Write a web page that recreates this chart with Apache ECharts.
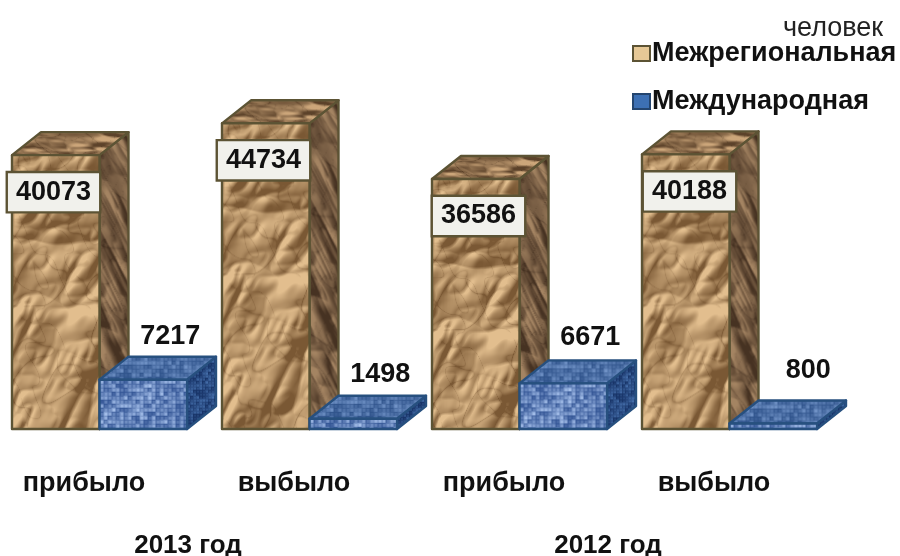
<!DOCTYPE html>
<html><head><meta charset="utf-8">
<style>html,body{margin:0;padding:0;background:#fff}#c{width:900px;height:556px}</style>
<script src="https://cdn.jsdelivr.net/npm/echarts@6/dist/echarts.min.js"></script>
</head><body><div id="c"></div>
<script>
const categories = ['прибыло','выбыло','прибыло','выбыло'];
const years = ['2013 год','2012 год'];
const interregional = [40073,44734,36586,40188];
const international = [7217,1498,6671,800];
const seriesNames = ['Межрегиональная','Международная'];
const unitLabel = 'человек';

// deterministic shaded surface for the paper and weave textures
function hash(x,y,s){let h=(x*374761393+y*668265263+s*1442695041)|0;h=Math.imul(h^(h>>>13),1274126177);return ((h^(h>>>16))>>>0)/4294967295;}
function vnoise(x,y,s){const xi=Math.floor(x),yi=Math.floor(y),fx=x-xi,fy=y-yi,u=fx*fx*(3-2*fx),v=fy*fy*(3-2*fy);
  const a=hash(xi,yi,s),b=hash(xi+1,yi,s),c=hash(xi,yi+1,s),d=hash(xi+1,yi+1,s);
  return a+(b-a)*u+(c-a)*v+(a-b-c+d)*u*v;}
function ridged(x,y,s){let t=0,amp=1;for(let o=0;o<3;o++){t+=amp*Math.abs(2*vnoise(x,y,s+o)-1);x=x*2.03+7;y=y*2.03+3;amp*=.45;}return t;}
function makeTex(w,h,pix){const c=document.createElement('canvas');c.width=w;c.height=h;const g=c.getContext('2d'),im=g.createImageData(w,h);
  for(let y=0;y<h;y++)for(let x=0;x<w;x++){const p=pix(x,y),i=(y*w+x)*4;im.data[i]=p[0];im.data[i+1]=p[1];im.data[i+2]=p[2];im.data[i+3]=255;}
  g.putImageData(im,0,0);return c;}
const mix=(a,b,t)=>{t=Math.max(0,Math.min(1,t));return [a[0]+(b[0]-a[0])*t,a[1]+(b[1]-a[1])*t,a[2]+(b[2]-a[2])*t];};
function paper(w,h,fx,fy,skew,seed,dark,light,gain,bias,crease){
  const H=(x,y)=>ridged((x+y*skew)*fx,y*fy,seed);
  return makeTex(w,h,(x,y)=>{
    const d=H(x+1.5,y+1.5)-H(x-1.5,y-1.5);
    const c1=Math.abs(2*vnoise((x+y*skew)*fx*1.7,y*fy*1.7,seed+20)-1);
    const c2=Math.abs(2*vnoise((x-y*skew)*fx*3.1,y*fy*3.1,seed+21)-1);
    const t=bias+gain*d+.25*(vnoise(x*.04,y*.03,seed+9)-.5)-crease*Math.exp(-c1/.035)-.6*crease*Math.exp(-c2/.04);
    return mix(dark,light,t);});
}
const texFront=paper(96,320,.024,.018,.45,11,[122,88,52],[226,190,142],2.6,.58,.32);
const texSide=paper(40,340,.05,.014,-.5,23,[70,50,34],[164,132,98],2.6,.5,.3);
const texTop=paper(130,40,.02,.05,-1.1,37,[92,66,42],[204,166,122],2.6,.5,.3);
function weave(w,h,dark,light,seed,cell){return makeTex(w,h,(x,y)=>{const cx=Math.floor(x/cell),cy=Math.floor(y/cell);
  const grid=((x%cell===0)||(y%cell===0))?.28:0;const t=hash(cx,cy,seed)*.75+.3*vnoise(x*.1,y*.1,seed+1)-grid;return mix(dark,light,t);});}
const texBF=weave(96,60,[52,86,150],[170,196,238],5,4);
const texBS=weave(40,60,[24,52,104],[70,112,172],6,3);
const texBT=weave(130,30,[48,84,140],[112,146,198],7,4);

const DX=29, DY=23;
const brown={front:texFront,side:texSide,top:texTop,line:'#5c5334'};
const blue={front:texBF,side:texBS,top:texBT,line:'#27507f'};
const pat=(image,x,y)=>({image,repeat:'repeat',x,y});
const FONT='"Liberation Sans",Arial,sans-serif';
const BOLD='bold 27px '+FONT;

function box(skin,x0,x1,yTop,yBase,extra){
  const line={stroke:skin.line,lineWidth:2.4,lineJoin:'round'};
  return [
    {type:'polygon',shape:{points:[[x1,yTop],[x1+DX,yTop-DY],[x1+DX,yBase-DY],[x1,yBase]]},style:Object.assign({fill:pat(skin.side,x1,yTop-DY)},line)},
    {type:'polygon',shape:{points:[[x0,yTop],[x0+DX,yTop-DY],[x1+DX,yTop-DY],[x1,yTop]]},style:Object.assign({fill:pat(skin.top,x0,yTop-DY)},line)},
    {type:'rect',shape:{x:x0,y:yTop,width:x1-x0,height:yBase-yTop},style:Object.assign({fill:pat(skin.front,x0,yTop)},line)}
  ].concat(extra||[]);
}
function renderBrown(params,api){
  const i=api.value(0),v=api.value(1),p=api.coord([i,v]),b=api.coord([i,0]),w=api.size([1,0])[0]/2.4;
  const nudge=[-46,-46,-41,-40][i];
  return {type:'group',children:box(brown,p[0]-w,p[0],p[1],b[1],[
    {type:'text',z2:11,style:{text:String(v),x:p[0]+nudge,y:p[1]+37,align:'center',verticalAlign:'middle',font:BOLD,fill:'#111',
      backgroundColor:'#f1f1ec',borderColor:'#5c5334',borderWidth:2.4,padding:[6,8,5,8]}}
  ])};
}
function renderBlue(params,api){
  const i=api.value(0),v=api.value(1),p=api.coord([i,v]),b=api.coord([i,0]),w=api.size([1,0])[0]/2.4;
  const up=[-43,-44,-46,-53][i], right=[27,27,27,35][i];
  return {type:'group',children:box(blue,p[0],p[0]+w,p[1],b[1],[
    {type:'text',z2:11,style:{text:String(v),x:p[0]+w/2+right,y:p[1]+up,align:'center',verticalAlign:'middle',font:BOLD,fill:'#111'}}
  ])};
}
const chart=echarts.init(document.getElementById('c'),null,{renderer:'canvas'});
chart.setOption({
  animation:false,backgroundColor:'#fff',
  title:{text:unitLabel,left:778,top:10,textStyle:{fontFamily:'Liberation Sans',fontWeight:'normal',fontSize:27,color:'#222'}},
  legend:{orient:'vertical',left:627,top:35,itemWidth:17,itemHeight:15,itemGap:21,itemStyle:{borderWidth:2},
    textStyle:{fontFamily:'Liberation Sans',fontWeight:'bold',fontSize:27,color:'#111',padding:[0,0,0,-3]},
    data:[{name:seriesNames[0],icon:'rect',itemStyle:{color:'#e6c896',borderColor:'#5c5334'}},
          {name:seriesNames[1],icon:'rect',itemStyle:{color:'#3d70b4',borderColor:'#24456f'}}]},
  grid:{left:-5.5,width:840,top:19,bottom:127,outerBoundsMode:'none'},
  xAxis:[
    {type:'category',data:categories,axisLine:{show:false},axisTick:{show:false},
     axisLabel:{margin:41,padding:[0,31,0,0],fontFamily:'Liberation Sans',fontWeight:'bold',fontSize:27,color:'#111',interval:0}},
    {type:'category',position:'bottom',offset:0,data:years,axisLine:{show:false},axisTick:{show:false},
     axisLabel:{margin:104,padding:[0,33,0,0],fontFamily:'Liberation Sans',fontWeight:'bold',fontSize:26,color:'#111',interval:0}}
  ],
  yAxis:{type:'value',min:0,max:60000,show:false,splitLine:{show:false}},
  series:[
    {type:'custom',name:seriesNames[0],renderItem:renderBrown,clip:false,encode:{x:0,y:1},data:interregional.map((v,i)=>[i,v])},
    {type:'custom',name:seriesNames[1],renderItem:renderBlue,clip:false,encode:{x:0,y:1},data:international.map((v,i)=>[i,v])}
  ]
});
</script></body></html>
